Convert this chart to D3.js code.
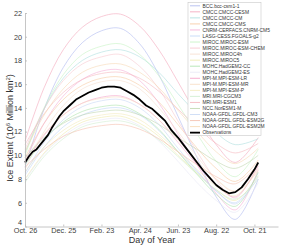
<!DOCTYPE html>
<html>
<head>
<meta charset="utf-8">
<script src="https://cdn.jsdelivr.net/npm/d3@7"></script>
<style>
  body { margin: 0; background: #fff; }
  text { font-family: "Liberation Sans", Arial, sans-serif; }
</style>
</head>
<body>
<svg id="chart"></svg>
<script>
// ngày trong năm (tính từ 26/10)
const days = [0, 30, 60, 90, 120, 150, 180, 210, 240, 270, 300, 330, 366];

const models = [
  "BCC.bcc-csm1-1", "CMCC.CMCC-CESM", "CMCC.CMCC-CM", "CMCC.CMCC-CMS",
  "CNRM-CERFACS.CNRM-CM5", "LASG-CESS.FGOALS-g2", "MIROC.MIROC-ESM",
  "MIROC.MIROC-ESM-CHEM", "MIROC.MIROC4h", "MIROC.MIROC5", "MOHC.HadGEM2-CC",
  "MOHC.HadGEM2-ES", "MPI-M.MPI-ESM-LR", "MPI-M.MPI-ESM-MR", "MPI-M.MPI-ESM-P",
  "MRI.MRI-CGCM3", "MRI.MRI-ESM1", "NCC.NorESM1-M", "NOAA-GFDL.GFDL-CM3",
  "NOAA-GFDL.GFDL-ESM2G", "NOAA-GFDL.GFDL-ESM2M"
];

const modelColors = [
  "#aab4ee", "#f2a0b6", "#a8dcdc", "#f6c69c", "#f4aad4", "#bcd4f6", "#c2f2c0",
  "#f6c4cc", "#f6dccc", "#eeeaa8", "#a8e2a8", "#e6e6f4", "#f49cc4", "#f8dcc2",
  "#f2eab8", "#cdeccd", "#f4b2ba", "#bcd4aa", "#c4d6f4", "#f4bcaa", "#f6d6ae"
];

// độ phủ băng của từng mô hình (10^6 km2)
const extentModels = [
  [9.0, 13.9, 17.4, 19.5, 20.5, 20.7, 19.4, 16.8, 13.3, 9.8, 6.5, 4.6, 8.0],
  [11.2, 15.7, 18.9, 20.8, 21.7, 21.9, 20.9, 18.9, 16.2, 13.4, 10.9, 9.4, 11.5],
  [10.2, 13.9, 16.5, 18.0, 18.7, 18.9, 18.3, 17.0, 15.2, 13.5, 11.9, 10.9, 11.4],
  [9.8, 12.7, 14.7, 15.9, 16.5, 16.6, 15.9, 14.5, 12.6, 10.6, 8.9, 7.8, 9.6],
  [9.5, 12.7, 15.0, 16.4, 17.1, 17.2, 16.3, 14.4, 11.8, 9.2, 6.8, 5.4, 8.8],
  [8.3, 10.7, 12.4, 13.4, 13.9, 14.0, 13.4, 12.1, 10.3, 8.6, 7.0, 6.0, 8.5],
  [10.0, 14.0, 16.8, 18.5, 19.2, 19.4, 18.5, 16.7, 14.3, 11.8, 9.5, 8.2, 10.5],
  [10.5, 13.9, 16.3, 17.7, 18.3, 18.5, 17.5, 15.6, 12.9, 10.3, 7.9, 6.4, 9.3],
  [8.8, 12.0, 14.2, 15.6, 16.2, 16.3, 15.6, 14.0, 12.0, 9.9, 8.0, 6.9, 8.7],
  [8.0, 10.2, 11.8, 12.8, 13.2, 13.3, 12.7, 11.6, 10.0, 8.5, 7.1, 6.2, 8.3],
  [9.2, 11.3, 12.8, 13.7, 14.1, 14.2, 13.5, 12.2, 10.3, 8.4, 6.7, 5.7, 8.6],
  [7.9, 10.1, 11.6, 12.6, 13.0, 13.1, 12.5, 11.2, 9.5, 7.7, 6.2, 5.2, 7.7],
  [9.3, 11.7, 13.4, 14.4, 14.9, 15.0, 14.3, 13.0, 11.1, 9.2, 7.5, 6.5, 9.1],
  [9.6, 11.8, 13.4, 14.4, 14.8, 14.9, 14.3, 13.0, 11.3, 9.5, 8.0, 7.0, 9.4],
  [8.6, 10.7, 12.1, 13.0, 13.4, 13.5, 13.0, 11.8, 10.3, 8.8, 7.4, 6.6, 8.9],
  [7.7, 9.9, 11.4, 12.4, 12.8, 12.9, 12.4, 11.3, 9.9, 8.4, 7.1, 6.3, 8.0],
  [10.9, 13.5, 15.3, 16.4, 16.9, 17.0, 16.5, 15.4, 13.9, 12.4, 11.0, 10.2, 11.0],
  [9.8, 11.5, 12.7, 13.4, 13.7, 13.8, 13.4, 12.6, 11.5, 10.5, 9.5, 8.9, 10.0],
  [8.5, 11.1, 13.0, 14.1, 14.6, 14.7, 14.0, 12.6, 10.6, 8.7, 7.0, 5.9, 8.2],
  [9.0, 10.5, 11.6, 12.2, 12.5, 12.6, 12.2, 11.4, 10.3, 9.2, 8.2, 7.6, 9.2],
  [10.3, 13.4, 15.6, 17.0, 17.6, 17.7, 17.0, 15.7, 13.8, 12.0, 10.3, 9.3, 10.6]
];

// quan trắc
const obsDays = [0, 6, 12, 18, 24, 30, 36, 42, 48, 54, 60, 70, 80, 90, 100, 110, 120, 130, 140,
  150, 160, 170, 180, 190, 200, 210, 220, 230, 240, 250, 260, 270, 280, 290, 300, 310, 320,
  330, 340, 350, 360, 366];
const obsExtent = [9.4, 9.9, 10.3, 10.5, 10.9, 11.3, 11.7, 12.3, 12.8, 13.3, 13.7, 14.2, 14.7,
  15.0, 15.3, 15.5, 15.7, 15.8, 15.8, 15.7, 15.4, 15.1, 14.7, 14.2, 13.9, 13.4, 12.9, 12.1,
  11.5, 10.8, 10.1, 9.4, 8.7, 8.1, 7.5, 7.1, 6.8, 6.9, 7.3, 8.0, 8.8, 9.4];

const xTicks = [0, 60, 120, 180, 240, 300, 360];
const xTickLabels = ["Oct. 26", "Dec. 25", "Feb. 23", "Apr. 24", "Jun. 23", "Aug. 22", "Oct. 21"];
const yTicks = [4, 6, 8, 10, 12, 14, 16, 18, 20, 22];

const W = 299, H = 248;
const svg = d3.select("#chart").attr("width", W).attr("height", H);

const x = d3.scaleLinear().domain([0, 397]).range([25, 278]);
const y = d3.scaleLinear().domain([4, 22]).range([226.5, 13]);

const line = d3.line()
  .x(d => x(d[0]))
  .y(d => y(d[1]))
  .curve(d3.curveCatmullRom);

// các đường mô hình
extentModels.forEach((vals, i) => {
  svg.append("path")
    .datum(days.map((d, j) => [d, vals[j]]))
    .attr("fill", "none")
    .attr("stroke", modelColors[i])
    .attr("stroke-opacity", 0.85)
    .attr("stroke-width", 0.65)
    .attr("d", line);
});

// đường quan trắc
svg.append("path")
  .datum(obsDays.map((d, j) => [d, obsExtent[j]]))
  .attr("fill", "none")
  .attr("stroke", "#000")
  .attr("stroke-width", 1.8)
  .attr("stroke-linejoin", "round")
  .attr("d", d3.line().x(d => x(d[0])).y(d => y(d[1])).curve(d3.curveLinear));

// trục
const xAxis = svg.append("g")
  .attr("transform", `translate(0,${y(4)})`)
  .call(d3.axisBottom(x).tickValues(xTicks).tickSizeInner(-2).tickSizeOuter(0)
    .tickFormat((d, i) => xTickLabels[i]));
const yAxis = svg.append("g")
  .attr("transform", `translate(${x(0)},0)`)
  .call(d3.axisLeft(y).tickValues(yTicks).tickSizeInner(-2).tickSizeOuter(0));

[xAxis, yAxis].forEach(g => {
  g.select(".domain").attr("stroke", "#b8b8b8").attr("stroke-width", 0.8);
  g.selectAll(".tick line").attr("stroke", "#b8b8b8").attr("stroke-width", 0.8);
  g.selectAll(".tick text").attr("fill", "#404040")
    .style("font-size", "7.3px").style("font-family", "Liberation Sans, Arial, sans-serif");
});
xAxis.selectAll(".tick text").attr("y", 1.8);
yAxis.selectAll(".tick text").attr("x", -3);
// số 4 nhích lên để khỏi đè nhãn ngày
yAxis.selectAll(".tick text").filter(d => d === 4).attr("dy", "-0.25em");

// nhãn trục
svg.append("text")
  .attr("x", 152).attr("y", 243)
  .attr("text-anchor", "middle")
  .style("font-size", "9px").attr("fill", "#333")
  .text("Day of Year");

const yl = svg.append("text")
  .attr("transform", "translate(13,128) rotate(-90)")
  .attr("text-anchor", "middle")
  .style("font-size", "9px").attr("fill", "#333");
yl.append("tspan").text("Ice Extent (10");
yl.append("tspan").attr("dy", -3).style("font-size", "6px").text("6");
yl.append("tspan").attr("dy", 3).text(" Million km");
yl.append("tspan").attr("dy", -3).style("font-size", "6px").text("2");
yl.append("tspan").attr("dy", 3).text(")");

// chú giải
const legendNames = models.concat(["Observations"]);
const legendColors = modelColors.concat(["#000"]);
const lg = svg.append("g");
lg.append("rect")
  .attr("x", 188).attr("y", 2.5)
  .attr("width", 73).attr("height", 133)
  .attr("fill", "#fff").attr("stroke", "#c8c8c8").attr("stroke-width", 0.6);

legendNames.forEach((name, i) => {
  const ly = 5.8 + i * 6.04;
  lg.append("line")
    .attr("x1", 190).attr("x2", 200).attr("y1", ly).attr("y2", ly)
    .attr("stroke", legendColors[i])
    .attr("stroke-width", i === legendNames.length - 1 ? 1.8 : 0.8);
  lg.append("text")
    .attr("x", 202.5).attr("y", ly + 1.7)
    .style("font-size", "4.9px").attr("fill", "#333")
    .text(name);
});
</script>
</body>
</html>
